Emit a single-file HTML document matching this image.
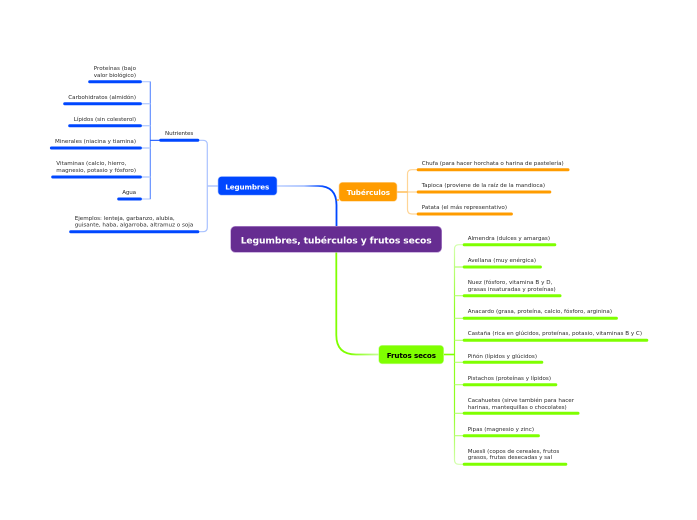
<!DOCTYPE html>
<html><head><meta charset="utf-8"><style>
html,body{margin:0;padding:0;background:#fff;width:697px;height:520px;overflow:hidden}
svg{display:block}
text{font-family:"DejaVu Sans","Liberation Sans",sans-serif;font-size:5.6px;fill:#2a2a2a}
.b{font-weight:bold;fill:#fff}
</style></head><body>
<svg width="697" height="520" viewBox="0 0 697 520" xmlns="http://www.w3.org/2000/svg">
<defs>
<linearGradient id="gb" gradientUnits="userSpaceOnUse" x1="277" y1="0" x2="337" y2="0"><stop offset="0" stop-color="#c4d5ff"/><stop offset=".45" stop-color="#a9c2ff"/><stop offset=".8" stop-color="#0047ff"/></linearGradient>
<linearGradient id="gg" gradientUnits="userSpaceOnUse" x1="336" y1="0" x2="379" y2="0"><stop offset=".3" stop-color="#7fff00"/><stop offset="1" stop-color="#c8ff9a"/></linearGradient>
<linearGradient id="gv" gradientUnits="userSpaceOnUse" x1="0" y1="244" x2="0" y2="465"><stop offset="0" stop-color="#d5ffb0"/><stop offset=".3" stop-color="#8fff20"/><stop offset=".75" stop-color="#8fff20"/><stop offset="1" stop-color="#d5ffb0"/></linearGradient>
</defs>
<g fill="none" stroke-linecap="butt">
<path d="M277 186H318Q336.5 186 336.5 205V228" stroke="url(#gb)" stroke-width="1.8"/>
<path d="M336.3 252V335Q336.3 354.5 356 354.5H379" stroke="url(#gg)" stroke-width="1.8"/>
<path d="M336.5 200H339" stroke="#ff9c00" stroke-width="1.2"/>
<path d="M199 140.3H203Q207.3 140.3 207.3 144.5V227.5Q207.3 231.7 203 231.7H199" stroke="#a9c2ff" stroke-width="1.2"/>
<path d="M207.3 186H218" stroke="#a9c2ff" stroke-width="1.4"/>
<path d="M141.7 81.7H150.3V199H141" stroke="#a9c2ff" stroke-width="1"/>
<path d="M150.3 81.7V199" stroke="#5d8aff" stroke-width="1"/>
<path d="M141.7 103.7H150.3M141.7 125.7H150.3M141.7 148H150.3M141.7 177H150.3" stroke="#b8ceff" stroke-width="1.4"/>
<path d="M150.3 140.3H160" stroke="#0047ff" stroke-width="1"/>
<path d="M417 169.7H412Q407.5 169.7 407.5 174V209.5Q407.5 214 412 214H417" stroke="#ffd596" stroke-width="1.2"/>
<path d="M397 192H407.5" stroke="#ffb84d" stroke-width="1.4"/>
<path d="M407.5 192H417" stroke="#ffd596" stroke-width="1.2"/>
<path d="M463 244.7H459Q454.5 244.7 454.5 249V460Q454.5 464.3 459 464.3H463" stroke="url(#gv)" stroke-width="1.2"/>
<path d="M443.7 354.5H454.5" stroke="#7fff00" stroke-width="1.6"/>
<path d="M454.5 267H463M454.5 295.7H463M454.5 318.3H463M454.5 340.3H463M454.5 362.3H463M454.5 384.7H463M454.5 413.3H463M454.5 435.7H463" stroke="#b8ff75" stroke-width="1.2"/>
</g>
<g stroke-linecap="round" stroke-width="3" fill="none">
<g stroke="#0047ff">
<path d="M89.7 81.7H140.4M64.7 103.7H140.4M69.7 125.7H140.4M51.4 148H140.4M52.7 177H140.4M118.7 199H140.4M160.7 140.3H197.8M70.7 231.7H197.8"/>
</g>
<g stroke="#ff9c00">
<path d="M418.2 169.7H568M418.2 192H549.8M418.2 214H511.4"/>
</g>
<g stroke="#7fff00">
<path d="M464.2 244.7H554.8M464.2 267H540.4M464.2 295.7H560M464.2 318.3H616.4M464.2 340.3H646.8M464.2 362.3H541.8M464.2 384.7H555.8M464.2 413.3H578M464.2 435.7H538.4M464.2 464.3H565.8"/>
</g>
</g>
<rect x="218" y="176.5" width="59" height="18.7" rx="3.5" fill="#0047ff" stroke="#a9c2ff" stroke-width=".6"/>
<rect x="339" y="182.3" width="58" height="19" rx="3.5" fill="#ff9c00" stroke="#ffd596" stroke-width=".6"/>
<rect x="378.7" y="345.3" width="65" height="18.5" rx="3.5" fill="#7fff00" stroke="#c8ff9a" stroke-width=".6"/>
<rect x="230.7" y="226.3" width="211" height="26" rx="4.5" fill="#662d91" stroke="#b58fd0" stroke-width=".6"/>
<text class="b" x="225.3" y="189.5" style="font-size:7.2px" textLength="44">Legumbres</text>
<text class="b" x="346.7" y="195" style="font-size:7.2px" textLength="43.3">Tubérculos</text>
<text class="b" x="386.7" y="358" style="font-size:7.2px;fill:#000" textLength="49.3">Frutos secos</text>
<text class="b" x="240.7" y="243.3" style="font-size:9.2px" textLength="191">Legumbres, tubérculos y frutos secos</text>
<text x="93.7" y="70" textLength="42.3">Proteínas (bajo</text>
<text x="93.7" y="77" textLength="42.3">valor biológico)</text>
<text x="68.3" y="99" textLength="67.7">Carbohidratos (almidón)</text>
<text x="73.7" y="121" textLength="62.3">Lípidos (sin colesterol)</text>
<text x="55" y="143.2" textLength="81">Minerales (niacina y tiamina)</text>
<text x="56.3" y="165" textLength="70">Vitaminas (calcio, hierro,</text>
<text x="56.3" y="172" textLength="79.7">magnesio, potasio y fósforo)</text>
<text x="122.3" y="194" textLength="13.7">Agua</text>
<text x="165" y="135" textLength="28.3">Nutrientes</text>
<text x="74.7" y="220" textLength="100">Ejemplos: lenteja, garbanzo, alubia,</text>
<text x="74.7" y="226.6" textLength="118.6">guisante, haba, algarroba, altramuz o soja</text>
<text x="421.7" y="165" textLength="142">Chufa (para hacer horchata o harina de pastelería)</text>
<text x="421.7" y="187" textLength="123.3">Tapioca (proviene de la raíz de la mandioca)</text>
<text x="421.7" y="209" textLength="85.3">Patata (el más representativo)</text>
<text x="467.7" y="240" textLength="82.3">Almendra (dulces y amargas)</text>
<text x="467.7" y="262" textLength="68.3">Avellana (muy enérgica)</text>
<text x="467.7" y="284" textLength="84.6">Nuez (fósforo, vitamina B y D,</text>
<text x="467.7" y="291" textLength="88">grasas insaturadas y proteínas)</text>
<text x="467.7" y="313" textLength="144.3">Anacardo (grasa, proteína, calcio, fósforo, arginina)</text>
<text x="467.7" y="335" textLength="174.3">Castaña (rica en glúcidos, proteínas, potasio, vitaminas B y C)</text>
<text x="467.7" y="358" textLength="69.3">Piñón (lípidos y glúcidos)</text>
<text x="467.7" y="380" textLength="83.3">Pistachos (proteínas y lípidos)</text>
<text x="467.7" y="402" textLength="106.3">Cacahuetes (sirve también para hacer</text>
<text x="467.7" y="409" textLength="99">harinas, mantequillas o chocolates)</text>
<text x="467.7" y="431" textLength="66.3">Pipas (magnesio y zinc)</text>
<text x="467.7" y="453" textLength="91.6">Muesli (copos de cereales, frutos</text>
<text x="467.7" y="459" textLength="84.3">grasos, frutas desecadas y sal</text>
</svg>
</body></html>
